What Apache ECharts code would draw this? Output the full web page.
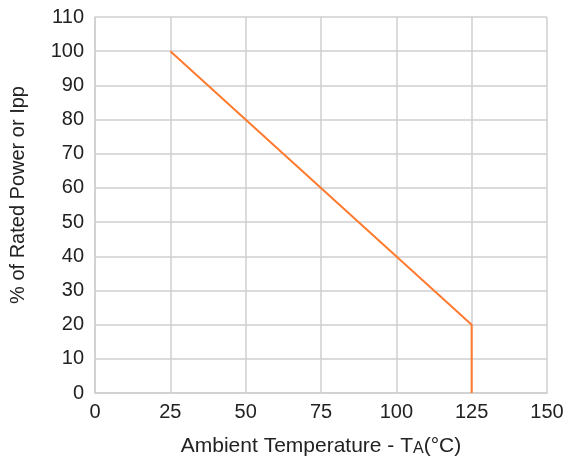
<!DOCTYPE html>
<html><head><meta charset="utf-8">
<script src="https://cdn.jsdelivr.net/npm/echarts@6/dist/echarts.min.js"></script>
<style>html,body{margin:0;padding:0;background:#fff}#c{width:567px;height:467px}</style>
</head><body><div id="c"></div>
<script>
const temps = [25, 125, 125];
const ratedPct = [100, 20, 0];
const xTicks = [0, 25, 50, 75, 100, 125, 150];
const yTicks = [0, 10, 20, 30, 40, 50, 60, 70, 80, 90, 100, 110];

const chart = echarts.init(document.getElementById('c'));
const font = 'Arial, "Liberation Sans", sans-serif';
chart.setOption({
  animation: false,
  grid: {left: 92, right: 20, top: 17, bottom: 74},
  xAxis: {
    type: 'value', min: 0, max: 150, interval: 25,
    name: 'Ambient Temperature - T{s|A}(°C)', nameLocation: 'middle', nameGap: 43,
    nameTextStyle: {fontFamily: font, fontSize: 21, color: '#222',
      rich: {s: {fontFamily: font, fontSize: 16, color: '#222', verticalAlign: 'bottom', padding: [4,0,0,0]}}},
    axisLine: {lineStyle: {color: '#cfcfcf', width: 1.5}},
    axisTick: {show: false},
    axisLabel: {fontFamily: font, fontSize: 20, color: '#222', margin: 9},
    splitLine: {lineStyle: {color: '#cfcfcf', width: 1.5}}
  },
  yAxis: {
    type: 'value', min: 0, max: 110, interval: 10,
    name: '% of Rated Power or Ipp', nameLocation: 'middle', nameGap: 67,
    nameTextStyle: {fontFamily: font, fontSize: 20, color: '#222', padding: [0, 0, 0, 20]},
    axisLine: {show: true, lineStyle: {color: '#cfcfcf', width: 1.5}},
    axisTick: {show: false},
    axisLabel: {fontFamily: font, fontSize: 20, color: '#222', margin: 11},
    splitLine: {lineStyle: {color: '#cfcfcf', width: 1.5}}
  },
  series: [{
    type: 'line', showSymbol: false,
    data: temps.map((t, i) => [t, ratedPct[i]]),
    lineStyle: {color: '#ff7a2e', width: 2}
  }]
});
</script></body></html>
